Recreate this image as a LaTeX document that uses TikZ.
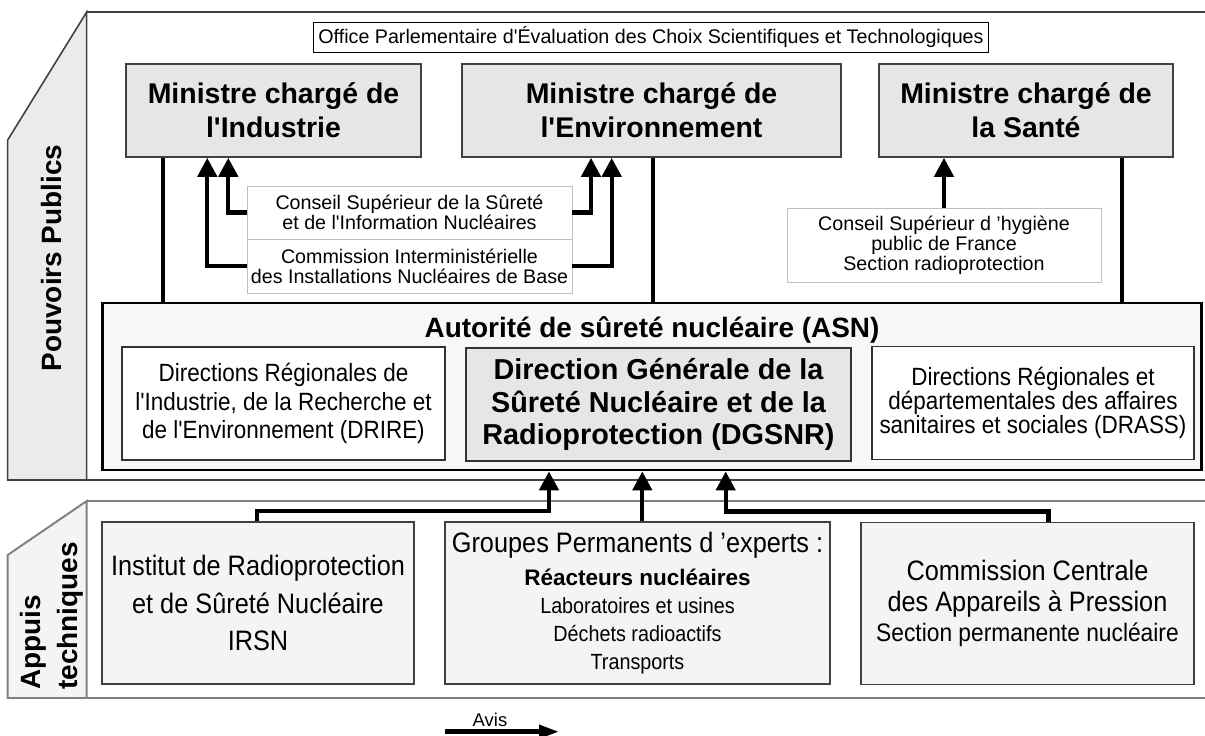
\documentclass[tikz,border=0pt]{standalone}
\usepackage{fontspec}
\setmainfont{Liberation Sans}[Ligatures=TeXOff]
\newfontfamily\etroite{Liberation Sans}[Ligatures=TeXOff, FakeStretch=0.9]
\usepackage{tikz}
\usetikzlibrary{arrows.meta,positioning}
\definecolor{grisTab}{RGB}{235,235,235}
\definecolor{grisTabBas}{RGB}{244,244,244}
\definecolor{grisMin}{RGB}{230,230,230}
\definecolor{grisASN}{RGB}{247,247,247}
\definecolor{grisAppui}{RGB}{244,244,244}

\begin{document}
\begin{tikzpicture}[
        x=0.02cm, y=-0.02cm,
        every node/.style={inner sep=0pt, align=center},
        titre/.style={font=\fontsize{15.9}{21}\selectfont\bfseries},
        bureau/.style={draw=black, line width=0.5pt, minimum width=13.52cm, minimum height=0.6cm, font=\fontsize{11.2}{13}\selectfont},
        ministre/.style={draw=black!75, line width=0.9pt, fill=grisMin, minimum width=#1, minimum height=1.86cm, font=\fontsize{16.2}{19.3}\selectfont\bfseries},
        conseil/.style={draw=black!25, line width=0.5pt, fill=white, minimum width=6.5cm, font=\fontsize{11.2}{11.3}\selectfont},
        service/.style={draw=black!80, line width=0.8pt, fill=white, minimum height=2.26cm, font=\etroite\fontsize{14.2}{16.2}\selectfont},
        appui/.style={draw=black!75, line width=0.8pt, fill=grisAppui, minimum height=3.24cm, font=\etroite\fontsize{16}{21.3}\selectfont},
        lien/.style={line width=2.4pt},
        avis/.style={line width=2.5pt, -{Triangle[length=0.38cm, width=0.38cm]}},
        panneau/.style={draw=black!75, line width=0.9pt},
        panneauBas/.style={draw=black!50, line width=1.1pt}
    ]
        \useasboundingbox (0,0) rectangle (1205,736);

        % panneaux
        \draw[panneau, fill=grisTab] (7.7,140) -- (86.7,12) -- (86.7,480) -- (7.7,480) -- cycle;
        \draw[panneau] (86.7,12) -- (1215,12) (7.7,480) -- (1215,480);
        \draw[panneauBas, fill=grisTabBas] (7.7,555) -- (86.7,501) -- (86.7,698) -- (7.7,698) -- cycle;
        \draw[panneauBas] (86.7,501) -- (1215,501) (7.7,698) -- (1215,698);

        \node[titre, rotate=90] (pouvoirs) at (52,258) {Pouvoirs Publics};
        \node[titre, rotate=90, anchor=west, align=left] (appuis) at (52,690) {Appuis\\techniques};

        % pouvoirs publics
        \node[bureau] (opecst) at (651,37) {Office Parlementaire d'Évaluation des Choix Scientifiques et Technologiques};
        \node[ministre=5.9cm] (industrie) at (273.5,110.5) {Ministre chargé de\\l'Industrie};
        \node[ministre=7.58cm] (environnement) at (651.5,110.5) {Ministre chargé de\\l'Environnement};
        \node[ministre=5.88cm] (sante) at (1026,110.5) {Ministre chargé de\\la Santé};

        \node[conseil, minimum height=1.06cm] (csurete) at (409.5,212.5) {Conseil Supérieur de la Sûreté\\et de l'Information Nucléaires};
        \node[conseil, minimum height=1.08cm] (ciinb) at (409.5,266) {Commission Interministérielle\\des Installations Nucléaires de Base};
        \node[conseil, minimum width=6.28cm, minimum height=1.48cm] (cshpf) at (944,245) {Conseil Supérieur d ’hygiène\\public de France\\Section radioprotection};

        \node[draw=black, line width=1.6pt, fill=grisASN, minimum width=22cm, minimum height=3.34cm] (asn) at (652,386.5) {};
        \node[titre, anchor=base] (asnTitre) at (652,338) {Autorité de sûreté nucléaire (ASN)};
        \node[service, minimum width=6.46cm] (drire) at (283.5,403.5) {Directions Régionales de\\l'Industrie, de la Recherche et\\de l'Environnement (DRIRE)};
        \node[service, minimum width=7.7cm, fill=grisMin, font=\fontsize{16.4}{18.7}\selectfont\bfseries] (dgsnr) at (658.5,404.5) {Direction Générale de la\\Sûreté Nucléaire et de la\\Radioprotection (DGSNR)};
        \node[service, minimum width=6.44cm, font=\etroite\fontsize{14.2}{13.6}\selectfont] (drass) at (1033,403) {Directions Régionales et\\départementales des affaires\\sanitaires et sociales (DRASS)};

        % appuis techniques
        \node[appui, minimum width=6.24cm] (irsn) at (258,603) {Institut de Radioprotection\\et de Sûreté Nucléaire\\IRSN};
        \node[appui, minimum width=7.7cm, font=\etroite\fontsize{12.5}{16}\selectfont] (gpe) at (637.5,603) {{\fontsize{16}{16}\selectfont Groupes Permanents d ’experts :}\\[2.7pt]{\rmfamily\bfseries\fontsize{12.8}{16}\selectfont Réacteurs nucléaires}\\Laboratoires et usines\\Déchets radioactifs\\Transports};
        \node[appui, minimum width=6.66cm, font=\etroite\fontsize{16}{17.6}\selectfont] (ccap) at (1027.5,603.5) {Commission Centrale\\des Appareils à Pression\\{\fontsize{14.4}{17.6}\selectfont Section permanente nucléaire}};

        % liens
        \draw[lien] (163.3,0 |- industrie.south) -- (163.3,0 |- asn.north);
        \draw[lien] (653.3,0 |- environnement.south) -- (653.3,0 |- asn.north);
        \draw[lien] (1121.7,0 |- sante.south) -- (1121.7,0 |- asn.north);

        % avis
        \draw[avis] (csurete.west) -| (228.3,0 |- industrie.south);
        \draw[avis] (csurete.east) -| (591,0 |- environnement.south);
        \draw[avis] (ciinb.west) -| (207.3,0 |- industrie.south);
        \draw[avis] (ciinb.east) -| (611.7,0 |- environnement.south);
        \draw[avis] (cshpf.north) -- (cshpf.north |- sante.south);
        \draw[avis] (256.7,0 |- irsn.north) -- ++(0,-10.3) -| (549,0 |- asn.south);
        \draw[avis] (642.3,0 |- gpe.north) -- (642.3,0 |- asn.south);
        \draw[avis] (1048.3,0 |- ccap.north) -- ++(0,-10.3) -| (725.7,0 |- asn.south);

        % legende
        \node[font=\fontsize{10.5}{12}\selectfont, anchor=base] (avisTexte) at (490,727) {Avis};
        \coordinate (avisDebut) at (445,731.7);
        \coordinate (avisFin) at (559,731.7);
        \draw[line width=2.6pt, -{Triangle[length=0.4cm, width=0.26cm]}] (avisDebut) -- (avisFin);
    \end{tikzpicture}
\end{document}
